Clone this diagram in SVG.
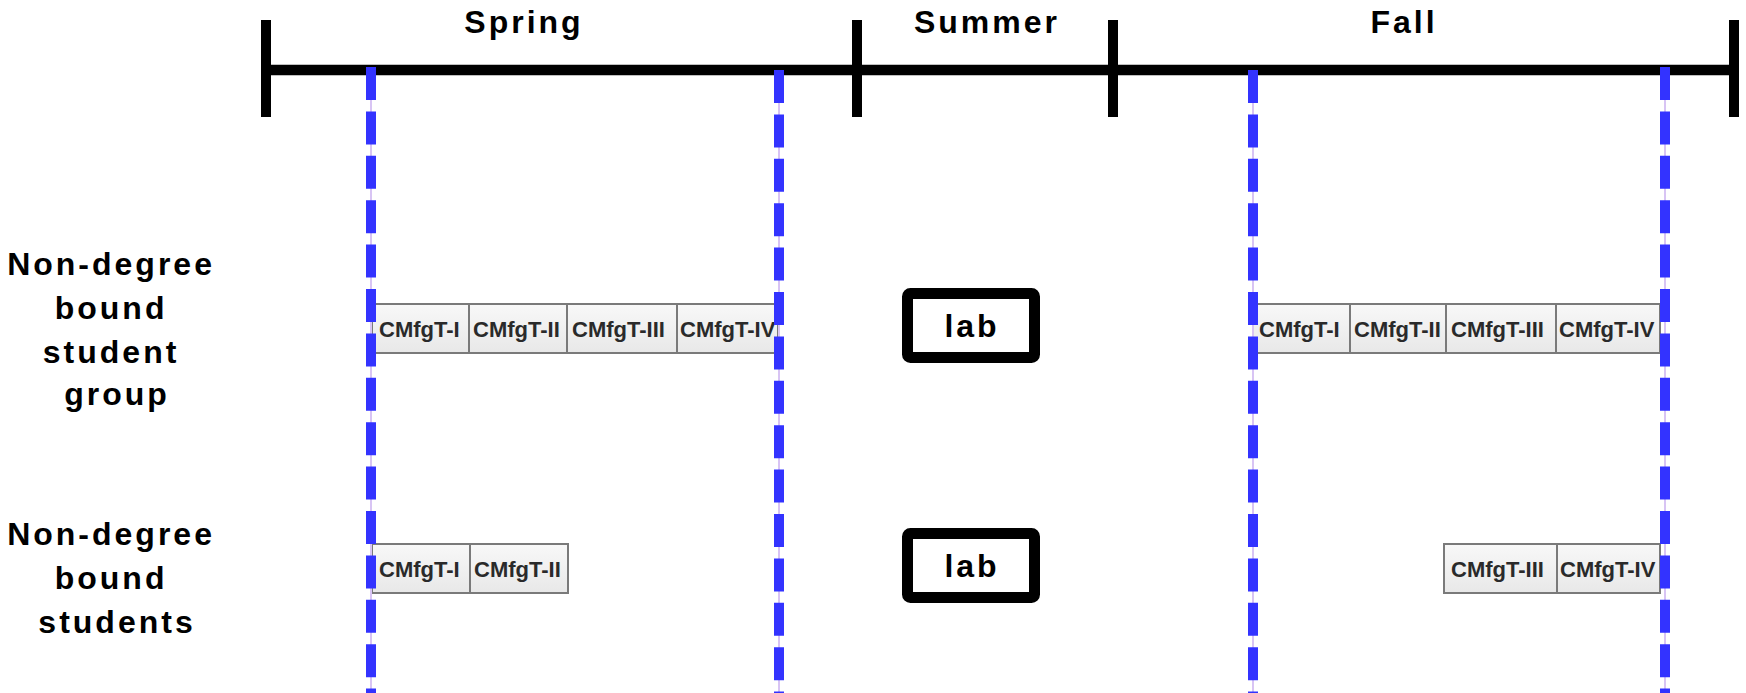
<svg xmlns="http://www.w3.org/2000/svg" width="1746" height="693" viewBox="0 0 1746 693">
<style>
.title{font-family:"Liberation Sans",Arial,sans-serif;font-weight:bold;font-size:32px;letter-spacing:3px;fill:#000;text-anchor:middle}
.cell rect{fill:url(#cg);stroke:#7a7a7a;stroke-width:2}
.cell text{font-family:"Liberation Sans",Arial,sans-serif;font-weight:bold;font-size:22px;fill:#2a2a2a}
.axis{stroke:#000;stroke-width:10.5;fill:none}
.tick{stroke:#000;stroke-width:10;fill:none}
.guide{stroke:#d8c4f4;stroke-width:2}
.dash{stroke:#3333ff;stroke-width:10;stroke-dasharray:33 11.4}
.lab rect{fill:#fff;stroke:#000;stroke-width:11}
</style>
<defs>
<linearGradient id="cg" x1="0" y1="0" x2="0" y2="1">
<stop offset="0" stop-color="#f8f8f8"/>
<stop offset="1" stop-color="#e8e8e8"/>
</linearGradient>
</defs>
<rect width="1746" height="693" fill="#fff"/>

<g id="timeline">
<line class="axis" x1="266" y1="70" x2="1734" y2="70"/>
<line class="tick" x1="266" y1="20" x2="266" y2="117"/>
<line class="tick" x1="857" y1="20" x2="857" y2="117"/>
<line class="tick" x1="1113" y1="20" x2="1113" y2="117"/>
<line class="tick" x1="1734" y1="20" x2="1734" y2="117"/>
</g>

<g id="season-spring"><text class="title" x="524" y="33">Spring</text></g>
<g id="season-summer"><text class="title" x="987" y="33">Summer</text></g>
<g id="season-fall"><text class="title" x="1404" y="33">Fall</text></g>

<g id="label-group"><text class="title">
<tspan x="117" y="275">Non-degree</tspan>
<tspan x="117" y="319">bound</tspan>
<tspan x="117" y="363">student</tspan>
<tspan x="117" y="405">group</tspan>
</text></g>
<g id="label-students"><text class="title">
<tspan x="117" y="545">Non-degree</tspan>
<tspan x="117" y="589">bound</tspan>
<tspan x="117" y="633">students</tspan>
</text></g>

<g id="row1-spring" class="cell">
<rect x="372" y="304" width="97" height="49"/><text x="379" y="337">CMfgT-I</text>
<rect x="469" y="304" width="98" height="49"/><text x="473" y="337">CMfgT-II</text>
<rect x="567" y="304" width="110" height="49"/><text x="572" y="337">CMfgT-III</text>
<rect x="677" y="304" width="101" height="49"/><text x="680" y="337">CMfgT-IV</text>
</g>
<g id="row1-fall" class="cell">
<rect x="1253" y="304" width="97" height="49"/><text x="1259" y="337">CMfgT-I</text>
<rect x="1350" y="304" width="96" height="49"/><text x="1354" y="337">CMfgT-II</text>
<rect x="1446" y="304" width="110" height="49"/><text x="1451" y="337">CMfgT-III</text>
<rect x="1556" y="304" width="104" height="49"/><text x="1559" y="337">CMfgT-IV</text>
</g>
<g id="row2-spring" class="cell">
<rect x="372" y="544" width="98" height="49"/><text x="379" y="577">CMfgT-I</text>
<rect x="470" y="544" width="98" height="49"/><text x="474" y="577">CMfgT-II</text>
</g>
<g id="row2-fall" class="cell">
<rect x="1444" y="544" width="113" height="49"/><text x="1451" y="577">CMfgT-III</text>
<rect x="1557" y="544" width="103" height="49"/><text x="1560" y="577">CMfgT-IV</text>
</g>

<g id="lab1" class="lab">
<rect x="907.5" y="293.5" width="127" height="64" rx="3"/>
<text class="title" x="972" y="337">lab</text>
</g>
<g id="lab2" class="lab">
<rect x="907.5" y="533.5" width="127" height="64" rx="3"/>
<text class="title" x="972" y="577">lab</text>
</g>

<g id="connectors">
<line class="guide" x1="371" y1="67" x2="371" y2="693"/>
<line class="dash" x1="371" y1="67" x2="371" y2="693"/>
<line class="guide" x1="779" y1="70" x2="779" y2="693"/>
<line class="dash" x1="779" y1="70" x2="779" y2="693"/>
<line class="guide" x1="1253" y1="70" x2="1253" y2="693"/>
<line class="dash" x1="1253" y1="70" x2="1253" y2="693"/>
<line class="guide" x1="1665" y1="67" x2="1665" y2="693"/>
<line class="dash" x1="1665" y1="67" x2="1665" y2="693"/>
</g>
</svg>
